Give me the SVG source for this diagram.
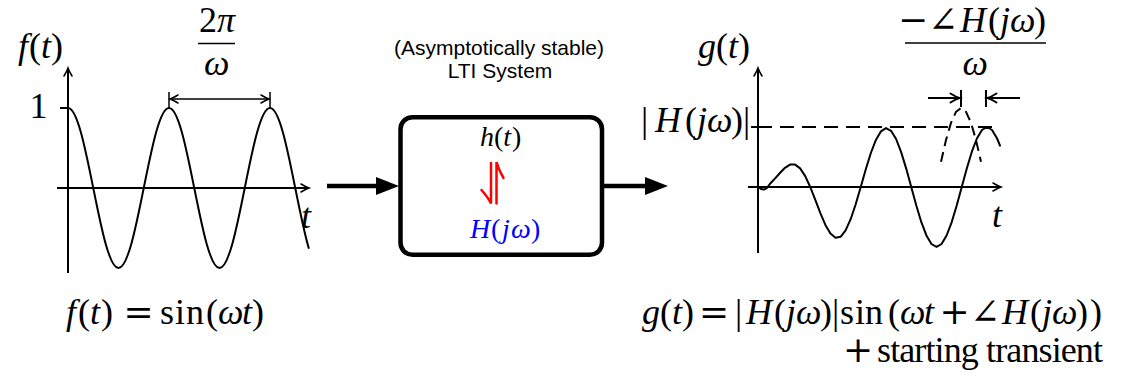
<svg xmlns="http://www.w3.org/2000/svg" width="1122" height="381" viewBox="0 0 1122 381">
<style>
.ax{stroke:#000;stroke-width:2;fill:none}
.curve{stroke:#000;stroke-width:2;fill:none;stroke-linejoin:round;stroke-linecap:round}
.dash{stroke:#000;stroke-width:2;fill:none;stroke-dasharray:14 8}
.dim{stroke:#000;stroke-width:1.5;fill:none}
.dimb{stroke:#000;stroke-width:2;fill:none}
.m{font-family:'Liberation Serif','DejaVu Serif',serif;font-size:36px;fill:#000}
.mb{font-family:'Liberation Serif','DejaVu Serif',serif;font-size:28px}
.i{font-style:italic}
.sym{font-family:'DejaVu Serif','DejaVu Sans',serif;font-style:normal}
.sans{font-family:'Liberation Sans',Arial,sans-serif;font-size:21px;text-anchor:middle;fill:#000}
.bar{stroke:#000;stroke-width:1.3}
.conn{stroke:#000;stroke-width:4.5;fill:none}
.harp{stroke:#ff0000;stroke-width:2.5;fill:none;stroke-linecap:round}
</style>
<defs>
<marker id="tip" viewBox="-10 -6 12 12" refX="0" refY="0" markerWidth="12" markerHeight="12" markerUnits="userSpaceOnUse" orient="auto-start-reverse" overflow="visible">
<path d="M-8,-4 Q-3,-1 0,0 Q-3,1 -8,4" fill="none" stroke="#000" stroke-width="1.5" stroke-linecap="round"/>
</marker>
<marker id="tipb" viewBox="-12 -6 13 12" refX="0" refY="0" markerWidth="13" markerHeight="12" markerUnits="userSpaceOnUse" orient="auto-start-reverse" overflow="visible">
<path d="M-9,-4.5 Q-3.5,-1 0,0 Q-3.5,1 -9,4.5" fill="none" stroke="#000" stroke-width="2" stroke-linecap="round"/>
</marker>
</defs>

<g id="input-plot">
<line class="ax" x1="68" y1="273" x2="68" y2="68" marker-end="url(#tip)"/>
<line class="ax" x1="57" y1="188" x2="309" y2="188" marker-end="url(#tip)"/>
<line class="ax" x1="60" y1="108" x2="68" y2="108"/>
<path class="curve" d="M68,108 C77.09,108 84.81,146 93.25,188 S109.41,268 118.5,268 S135.31,230 143.75,188 S159.91,108 169,108 S185.81,146 194.25,188 S210.41,268 219.5,268 S236.31,230 244.75,188 S260.91,108 270,108 S286.81,146 295.25,188 C299.89,211.1 304.32,233 308.7,248"/>
<line class="dim" x1="169" y1="92" x2="169" y2="108"/>
<line class="dim" x1="270" y1="92" x2="270" y2="108"/>
<line class="dim" x1="170" y1="99" x2="269" y2="99" marker-start="url(#tip)" marker-end="url(#tip)"/>
<text class="m"><tspan class="i" x="18" y="58">f</tspan><tspan x="29" y="58">(</tspan><tspan class="i" x="41" y="58">t</tspan><tspan x="51" y="58">)</tspan></text>
<text class="m" x="29.5" y="118">1</text>
<text class="m"><tspan x="199" y="32">2</tspan><tspan class="i" x="217" y="32">π</tspan></text>
<line class="bar" x1="198" y1="43.5" x2="235" y2="43.5"/>
<text class="m i" x="204" y="75">ω</text>
<text class="m i" x="301" y="228">t</text>
</g>

<g id="lti-system">
<text class="sans" x="499" y="55">(Asymptotically stable)</text>
<text class="sans" x="500" y="78">LTI System</text>
<rect x="400.5" y="117.2" width="201.5" height="137.6" rx="12" fill="#fff" stroke="#000" stroke-width="4.5"/>
<text class="mb"><tspan class="i" x="480" y="146">h</tspan><tspan x="494" y="146">(</tspan><tspan class="i" x="503.3" y="146">t</tspan><tspan x="512" y="146">)</tspan></text>
<path class="harp" d="M491,163 V203.5 C489,199 485,194 481.5,190"/>
<path class="harp" d="M496.5,203.5 V162 C498,167 500.5,173 503.5,178"/>
<text class="mb" fill="#0000ff"><tspan class="i" x="470" y="238">H</tspan><tspan x="491" y="238">(</tspan><tspan class="i" x="502" y="238">j</tspan><tspan class="i" x="511" y="238">ω</tspan><tspan x="531" y="238">)</tspan></text>
</g>

<g id="connectors">
<g id="edge-input">
<line class="conn" x1="327" y1="186" x2="380" y2="186"/>
<polygon points="376,177 399,186 376,195" fill="#000"/>
</g>
<g id="edge-output">
<line class="conn" x1="604" y1="186" x2="648" y2="186"/>
<polygon points="645,177 668,186 645,195" fill="#000"/>
</g>
</g>

<g id="output-plot">
<line class="ax" x1="758" y1="253" x2="758" y2="68" marker-end="url(#tip)"/>
<line class="ax" x1="748" y1="187" x2="1001" y2="187" marker-end="url(#tip)"/>
<line class="ax" x1="751" y1="127" x2="758" y2="127"/>
<line class="dash" x1="758" y1="127" x2="1000" y2="127"/>
<polyline class="curve" points="758,187 761,189 764,189.6 767,187.8 769.85,184 774.9,178.6 779.95,173 785,167.8 790.05,164.6 795.1,164.6 800.15,168.4 805.2,176.1 810.25,187 815.3,199.9 820.35,213.1 825.4,224.9 830.45,233.6 835.5,237.8 840.55,236.8 845.6,230.4 850.65,219.2 855.7,204.2 860.75,187 865.8,169.3 870.85,153 875.9,139.9 880.95,131.3 886,128.1 891.05,130.8 896.1,139 901.15,152.1 906.2,168.6 911.25,187 916.3,205.5 921.35,222.2 926.4,235.4 931.45,244 936.5,246.9 941.55,244 946.6,235.5 951.65,222.3 956.7,205.5 961.75,187 966.8,168.5 971.85,151.7 976.9,138.5 981.95,130 987,127 992.05,130 997.1,138.5 1000,145.6"/>
<polyline points="941,161.7 946,140 951,122.8 956,111.8 961,108 966,111.8 971,122.8 976,140 981,161.7" fill="none" stroke="#000" stroke-width="2" stroke-dasharray="10 6"/>
<line class="dimb" x1="961" y1="90" x2="961" y2="107"/>
<line class="dimb" x1="986" y1="90" x2="986" y2="107"/>
<line class="dimb" x1="928" y1="98" x2="959.5" y2="98" marker-end="url(#tipb)"/>
<line class="dimb" x1="1020" y1="98" x2="987.5" y2="98" marker-end="url(#tipb)"/>
<text class="m"><tspan class="i" x="698" y="58">g</tspan><tspan x="716" y="58">(</tspan><tspan class="i" x="728" y="58">t</tspan><tspan x="738" y="58">)</tspan></text>
<text class="m"><tspan x="641" y="132">|</tspan><tspan class="i" x="655" y="132">H</tspan><tspan x="685" y="132">(</tspan><tspan class="i" x="697" y="132">j</tspan><tspan class="i" x="707" y="132">ω</tspan><tspan x="731" y="132">)</tspan><tspan x="743" y="132">|</tspan></text>
<text class="m i" x="992" y="227">t</text>
<text class="m"><tspan class="sym" x="898" y="32">−</tspan><tspan class="sym" x="928" y="32">∠</tspan><tspan class="i" x="960" y="32">H</tspan><tspan x="988" y="32">(</tspan><tspan class="i" x="1000" y="32">j</tspan><tspan class="i" x="1010" y="32">ω</tspan><tspan x="1034" y="32">)</tspan></text>
<line class="bar" x1="905" y1="43" x2="1046" y2="43"/>
<text class="m i" x="962.5" y="75">ω</text>
</g>

<g id="input-formula">
<text class="m"><tspan class="i" x="66" y="324">f</tspan><tspan x="78" y="324">(</tspan><tspan class="i" x="90" y="324">t</tspan><tspan x="101" y="324">)</tspan><tspan class="sym" x="123.5" y="324">=</tspan><tspan x="160" y="324">s</tspan><tspan x="175" y="324">i</tspan><tspan x="186" y="324">n</tspan><tspan x="206" y="324">(</tspan><tspan class="i" x="218" y="324">ω</tspan><tspan class="i" x="242" y="324">t</tspan><tspan x="252" y="324">)</tspan></text>
</g>

<g id="output-formula">
<text class="m"><tspan class="i" x="642" y="324">g</tspan><tspan x="660" y="324">(</tspan><tspan class="i" x="672" y="324">t</tspan><tspan x="682" y="324">)</tspan><tspan class="sym" x="699" y="324">=</tspan><tspan x="735" y="324">|</tspan><tspan class="i" x="746" y="324">H</tspan><tspan x="774" y="324">(</tspan><tspan class="i" x="786" y="324">j</tspan><tspan class="i" x="796" y="324">ω</tspan><tspan x="820" y="324">)</tspan><tspan x="832" y="324">|</tspan><tspan x="840" y="324">s</tspan><tspan x="855" y="324">i</tspan><tspan x="865" y="324">n</tspan><tspan x="888" y="324">(</tspan><tspan class="i" x="900" y="324">ω</tspan><tspan class="i" x="924" y="324">t</tspan><tspan class="sym" x="939.5" y="324">+</tspan><tspan class="sym" x="970" y="324">∠</tspan><tspan class="i" x="1002" y="324">H</tspan><tspan x="1030" y="324">(</tspan><tspan class="i" x="1042" y="324">j</tspan><tspan class="i" x="1052" y="324">ω</tspan><tspan x="1076" y="324">)</tspan><tspan x="1090" y="324">)</tspan></text>
<text class="m" font-size="32"><tspan class="sym" x="843" y="362">+</tspan></text>
<text class="m" x="877" y="362" font-size="32" textLength="226" lengthAdjust="spacing">starting transient</text>
</g>
</svg>
